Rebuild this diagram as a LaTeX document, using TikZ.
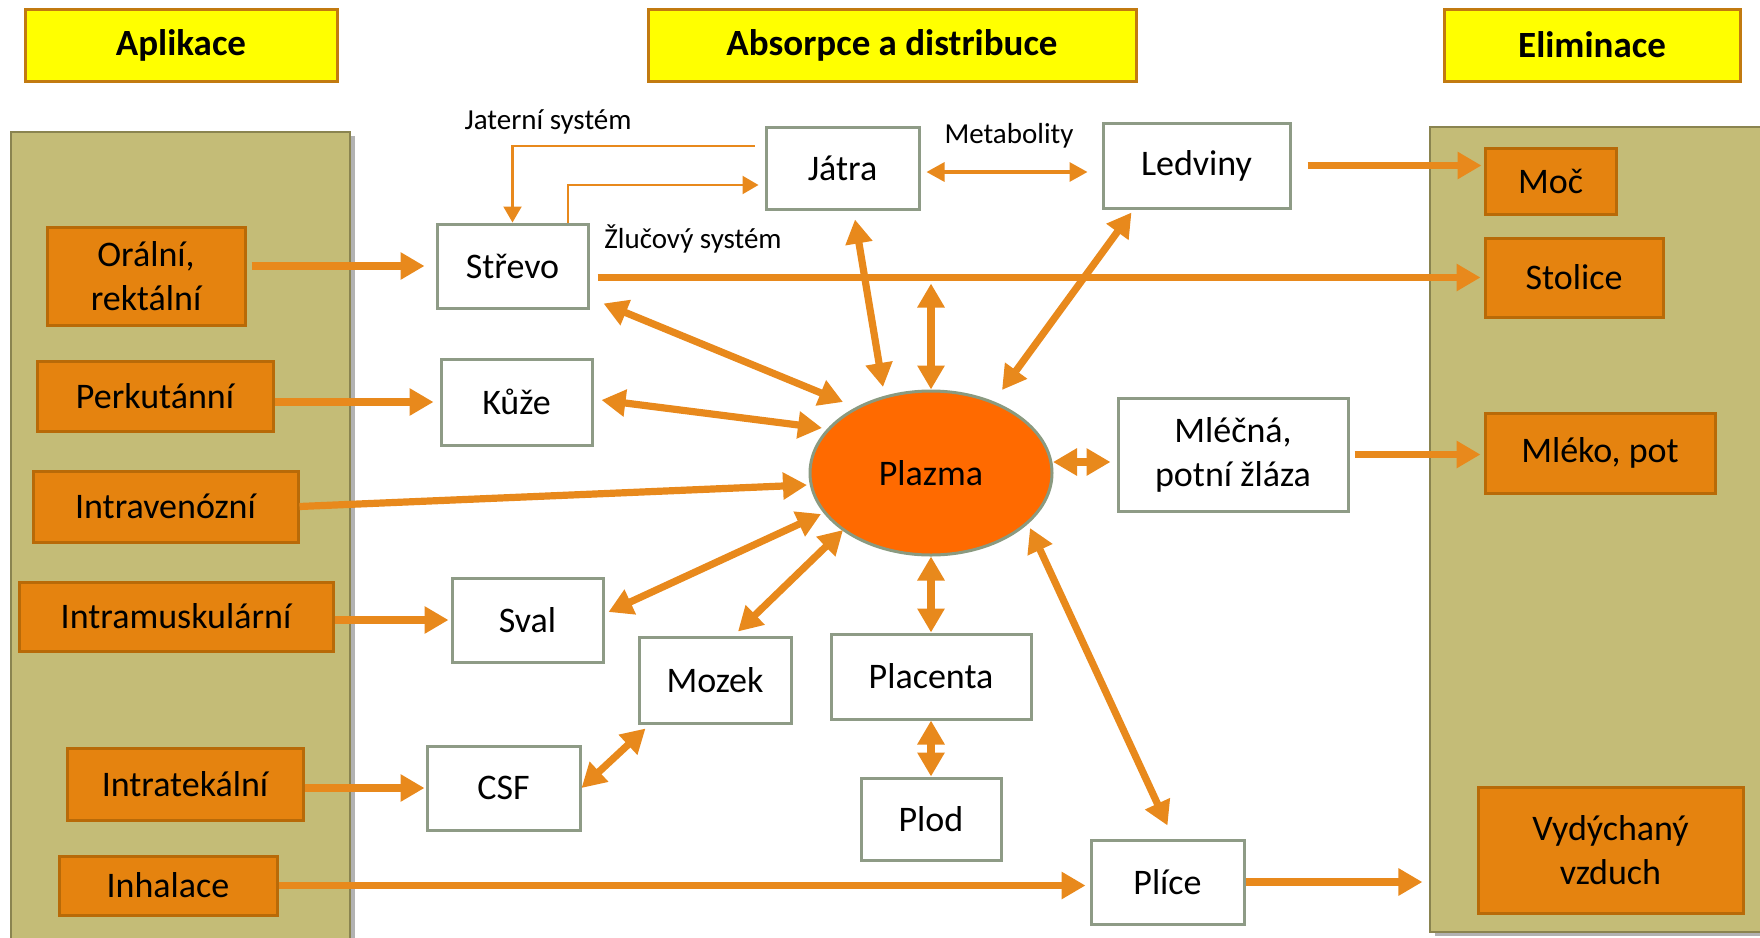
\documentclass[tikz,border=0pt]{standalone}
\usepackage{fontspec}
\setmainfont{Carlito}
\usetikzlibrary{arrows.meta,shapes.geometric,shadows}
\definecolor{arrc}{HTML}{E8891C}
\definecolor{ofill}{HTML}{E5830F}
\definecolor{oborder}{HTML}{B86A08}
\definecolor{wborder}{HTML}{8E9B86}
\definecolor{panelfill}{HTML}{C4BC77}
\definecolor{panelborder}{HTML}{8A8450}
\definecolor{hdrfill}{HTML}{FFFF00}
\definecolor{hdrborder}{HTML}{C27A10}
\definecolor{plasmafill}{HTML}{FF6A00}
\definecolor{plasmaborder}{HTML}{8A9A80}
\tikzset{
  hdr/.style={draw=hdrborder, fill=hdrfill, line width=1.5pt, inner sep=0pt,
    font=\bfseries\fontsize{18.5}{22}\selectfont},
  obox/.style={draw=oborder, fill=ofill, line width=1.5pt, inner sep=0pt, align=center,
    font=\fontsize{18}{22}\selectfont},
  wbox/.style={draw=wborder, fill=white, line width=1.5pt, inner sep=0pt, align=center,
    font=\fontsize{18}{22}\selectfont},
  panel/.style={draw=panelborder, fill=panelfill, line width=0.6pt, inner sep=0pt,
    drop shadow={shadow xshift=2.5pt, shadow yshift=-2pt, opacity=0.3, fill=black}},
  lbl/.style={inner sep=0pt, font=\fontsize{14.5}{17}\selectfont},
  arr/.style={draw=arrc, line width=3.6pt, -{Triangle[length=12pt,width=13pt]}},
  dbl/.style={draw=arrc, line width=3.6pt, {Triangle[length=12pt,width=13pt]}-{Triangle[length=12pt,width=13pt]}},
  thinarr/.style={draw=arrc, line width=1.1pt, -{Triangle[length=8pt,width=9pt]}},
  metarr/.style={draw=arrc, line width=1.6pt, {Triangle[length=9pt,width=9.5pt]}-{Triangle[length=9pt,width=9.5pt]}},
}
\begin{document}
\begin{tikzpicture}[x=0.5pt,y=-0.5pt]
\useasboundingbox (0,0) rectangle (1760,937);
% panels
\node[panel, minimum width=169.5pt, minimum height=404pt] (aplpanel) at (180.5,536) {};
\node[panel, minimum width=167pt, minimum height=402.5pt] (elim) at (1597,529.5) {};
% headers
\node[hdr, minimum width=156pt, minimum height=36pt] (hapl) at (181,45) {Aplikace};
\node[hdr, minimum width=244pt, minimum height=36pt] (habs) at (892,45) {Absorpce a distribuce};
\node[hdr, minimum width=148pt, minimum height=36pt] (heli) at (1592,45) {Eliminace};
% application boxes
\node[obox, minimum width=99pt, minimum height=49pt] (oral) at (146,276) {Orální,\\rektální};
\node[obox, minimum width=118pt, minimum height=35pt] (perk) at (155,396) {Perkutánní};
\node[obox, minimum width=132.5pt, minimum height=35.5pt] (iv) at (165.5,506.5) {Intravenózní};
\node[obox, minimum width=157pt, minimum height=34.5pt] (im) at (176,616.5) {Intramuskulární};
\node[obox, minimum width=118pt, minimum height=36pt] (it) at (185,784) {Intratekální};
\node[obox, minimum width=109pt, minimum height=29.5pt] (inh) at (168,885.5) {Inhalace};
% distribution boxes
\node[wbox, minimum width=75.5pt, minimum height=42pt] (strevo) at (512.5,266) {Střevo};
\node[wbox, minimum width=75.5pt, minimum height=43pt] (kuze) at (516.5,402) {Kůže};
\node[wbox, minimum width=75.5pt, minimum height=42pt] (sval) at (527.5,620) {Sval};
\node[wbox, minimum width=76.5pt, minimum height=42pt] (csf) at (503.5,788) {CSF};
\node[wbox, minimum width=76pt, minimum height=43pt] (mozek) at (715,680) {Mozek};
\node[wbox, minimum width=100pt, minimum height=42.5pt] (placenta) at (931,676.5) {Placenta};
\node[wbox, minimum width=70pt, minimum height=41pt] (plod) at (931,819) {Plod};
\node[wbox, minimum width=76.5pt, minimum height=42pt] (plice) at (1167.5,882) {Plíce};
\node[wbox, minimum width=76.5pt, minimum height=41pt] (jatra) at (842.5,168) {Játra};
\node[wbox, minimum width=93.5pt, minimum height=42.5pt] (ledviny) at (1196.5,165.5) {Ledviny};
\node[wbox, minimum width=115pt, minimum height=56.5pt] (mlecna) at (1233,454.5) {Mléčná,\\potní žláza};
\node[ellipse, draw=plasmaborder, fill=plasmafill, line width=1.5pt, inner sep=0pt,
  minimum width=121pt, minimum height=82pt, font=\fontsize{18}{22}\selectfont] (plasma) at (931,473) {Plazma};
% elimination boxes
\node[obox, minimum width=65.5pt, minimum height=33pt] (moc) at (1550.5,181) {Moč};
\node[obox, minimum width=89pt, minimum height=39.5pt] (stolice) at (1574,277.5) {Stolice};
\node[obox, minimum width=115pt, minimum height=40pt] (mleko) at (1600,453) {Mléko, pot};
\node[obox, minimum width=132.5pt, minimum height=63pt] (vyd) at (1610.5,850) {Vydýchaný\\vzduch};
% labels
\node[lbl] (ljat) at (548,122) {Jaterní systém};
\node[lbl] (lmet) at (1009,136) {Metabolity};
\node[lbl] (lzluc) at (693,239) {Žlučový systém};
% thin connectors
\draw[thinarr] ([shift={(-10,-22)}]jatra.west) -| (strevo.north);
\draw[thinarr, shorten >=3pt] ([shift={(55.5,0)}]strevo.north) |- ([shift={(0,17)}]jatra.west);
\draw[metarr] ([shift={(6,4)}]jatra.east) -- ([shift={(-14,6.5)}]ledviny.west);
% application arrows
\draw[arr, shorten <=2.5pt, shorten >=5.5pt] (oral.east |- strevo.west) -- (strevo.west);
\draw[arr, shorten >=3pt] (perk.east |- kuze.west) -- (kuze.west);
\draw[arr] (iv.east) -- ([shift={(-124,12)}]plasma.center);
\draw[arr, shorten >=1pt] (im.east |- sval.west) -- (sval.west);
\draw[arr, shorten >=0.5pt] (it.east |- csf.west) -- (csf.west);
\draw[arr, shorten >=2pt] (inh.east) -- (inh.east -| plice.west);
% elimination arrows
\draw[arr, shorten <=4pt, shorten >=1.5pt] (strevo.east |- stolice.west) -- (stolice.west);
\draw[arr, shorten <=8pt, shorten >=1pt] (ledviny.east) -- (ledviny.east -| moc.west);
\draw[arr, shorten <=2.5pt, shorten >=1.5pt] (mlecna.east) -- (mlecna.east -| mleko.west);
\draw[arr, shorten >=3.5pt] (plice.east) -- (plice.east -| elim.west);
% plasma exchanges
\draw[dbl] ([shift={(14,-6)}]strevo.south east) -- ([shift={(-88,-71)}]plasma.center);
\draw[dbl] ([shift={(8,-2)}]kuze.east) -- ([shift={(-109,-45)}]plasma.center);
\draw[dbl] ([shift={(4,-8)}]sval.east) -- ([shift={(-110,41)}]plasma.center);
\draw[dbl] ([shift={(23,-4)}]mozek.north) -- ([shift={(-88,57)}]plasma.center);
\draw[dbl] (csf.east) -- ([shift={(8,4)}]mozek.south west);
\draw[dbl] (plasma.south) -- (placenta.north);
\draw[dbl] (placenta.south) -- (plod.north);
\draw[dbl] ([shift={(0,-13)}]plice.north) -- ([shift={(99,55)}]plasma.center);
\draw[dbl] ([shift={(-6,7.5)}]mlecna.west) -- ([shift={(122,-11)}]plasma.center);
\draw[dbl] ([shift={(30,3)}]ledviny.south west) -- ([shift={(71,-83)}]plasma.center);
\draw[dbl] ([shift={(12.5,9)}]jatra.south) -- ([shift={(-48,-86)}]plasma.center);
\draw[dbl] ([shift={(0,6)}]plasma.north |- stolice.west) -- (plasma.north);
\end{tikzpicture}
\end{document}
